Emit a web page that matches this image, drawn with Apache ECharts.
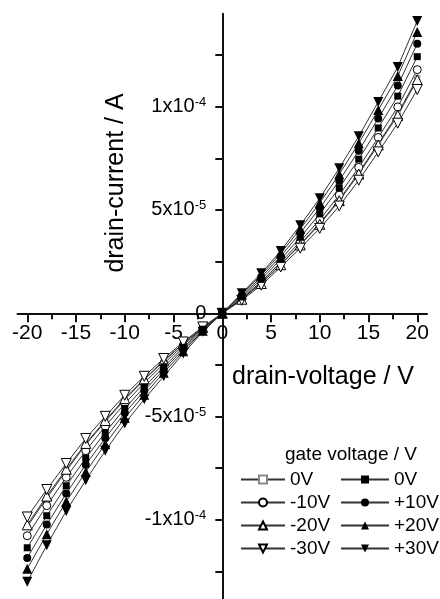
<!DOCTYPE html>
<html>
<head>
<meta charset="utf-8">
<script src="https://cdn.jsdelivr.net/npm/echarts@6/dist/echarts.min.js"></script>
<style>
  html, body { margin: 0; padding: 0; background: #fff; }
  #chart { width: 440px; height: 599px; }
</style>
</head>
<body>
<div id="chart"></div>
<script>
// drain voltage (V)
var voltages = [-20, -18, -16, -14, -12, -10, -8, -6, -4, -2, 0, 2, 4, 6, 8, 10, 12, 14, 16, 18, 20];

// drain current in units of 1e-5 A
var open0 = [-10.33, -8.94, -7.62, -6.36, -5.24, -4.18, -3.22, -2.32, -1.47, -0.70, 0, 0.69, 1.46, 2.37, 3.34, 4.36, 5.50, 6.80, 8.22, 9.66, 11.39];
var openM10 = [-10.77, -9.31, -7.94, -6.65, -5.47, -4.37, -3.37, -2.44, -1.55, -0.73, 0, 0.73, 1.53, 2.47, 3.47, 4.53, 5.72, 7.06, 8.51, 9.99, 11.79];
var openM20 = [-10.24, -8.85, -7.55, -6.30, -5.19, -4.13, -3.18, -2.29, -1.46, -0.69, 0, 0.68, 1.44, 2.35, 3.31, 4.31, 5.45, 6.74, 8.15, 9.58, 11.30];
var openM30 = [-9.86, -8.53, -7.27, -6.06, -4.99, -3.97, -3.05, -2.19, -1.39, -0.66, 0, 0.63, 1.36, 2.24, 3.15, 4.11, 5.19, 6.44, 7.81, 9.20, 10.83];
var fill0 = [-11.35, -9.80, -8.35, -7.01, -5.77, -4.61, -3.57, -2.59, -1.65, -0.77, 0, 0.79, 1.64, 2.61, 3.68, 4.81, 6.07, 7.46, 8.97, 10.51, 12.42];
var fillP10 = [-11.84, -10.23, -8.72, -7.33, -6.04, -4.83, -3.75, -2.73, -1.74, -0.81, 0, 0.86, 1.75, 2.76, 3.89, 5.09, 6.42, 7.87, 9.43, 11.02, 13.05];
var fillP20 = [-12.37, -10.69, -9.11, -7.68, -6.33, -5.07, -3.94, -2.88, -1.84, -0.85, 0, 0.92, 1.85, 2.90, 4.08, 5.34, 6.73, 8.23, 9.84, 11.48, 13.62];
var fillP30 = [-13.00, -11.23, -9.57, -8.08, -6.66, -5.34, -4.16, -3.05, -1.95, -0.90, 0, 0.97, 1.94, 3.02, 4.26, 5.57, 7.02, 8.57, 10.23, 11.92, 14.15];
var UNIT = 1e-5;

var openNames = ['0V', '-10V', '-20V', '-30V'];
var fillNames = ['0V', '+10V', '+20V', '+30V'];

// tick / label positions
var xMajor = [-20, -15, -10, -5, 0, 5, 10, 15, 20];
var xMinor = [-17.5, -12.5, -7.5, -2.5, 2.5, 7.5, 12.5, 17.5];
var yLabels = [-1e-4, -5e-5, 0, 5e-5, 1e-4];
var yTicks = [-1.25e-4, -1e-4, -7.5e-5, -5e-5, -2.5e-5, 0, 2.5e-5, 5e-5, 7.5e-5, 1e-4, 1.25e-4];

var FONT = 'Liberation Sans, Arial, sans-serif';

// grid box; axes are shifted onto the zero lines with offset
var G = { left: 17.5, right: 13, top: 13.7, bottom: 0 };
var ZERO_X = 222.3, ZERO_Y = 313.3;

function pairs(arr) {
  return voltages.map(function (v, i) { return [v, arr[i] * UNIT]; });
}

function mk(key, arr, symbol, size, filled, rotate, borderColor) {
  return {
    name: key,
    type: 'line',
    data: pairs(arr),
    symbol: symbol,
    symbolSize: size,
    symbolRotate: rotate || 0,
    showAllSymbol: true,
    lineStyle: { color: '#333', width: 1 },
    itemStyle: {
      color: filled ? '#000' : '#fff',
      borderColor: borderColor || '#000',
      borderWidth: filled ? 0 : 1,
      opacity: 1
    },
    emphasis: { disabled: true },
    z: filled ? 3 : 2
  };
}

function yFmt(v) {
  if (Math.abs(v) < 1e-12) return '{m|0}';
  var e = Math.floor(Math.log10(Math.abs(v)) + 1e-9);
  var m = Math.round(v / Math.pow(10, e));
  return '{m|' + m + 'x10}{s|' + e + '}';
}

var chart = echarts.init(document.getElementById('chart'));
chart.setOption({
  animation: false,
  backgroundColor: '#fff',
  grid: { left: G.left, right: G.right, top: G.top, bottom: G.bottom, containLabel: false, outerBoundsMode: 'none' },
  xAxis: [{
    type: 'value', min: -21, max: 21, position: 'bottom',
    offset: -(599 - G.bottom - ZERO_Y),
    splitLine: { show: false },
    axisLine: { onZero: false, lineStyle: { color: '#111', width: 2 } },
    axisTick: { customValues: xMajor, length: 9, lineStyle: { color: '#111', width: 2 } },
    axisLabel: { customValues: xMajor, margin: 9, color: '#000', fontSize: 21, fontFamily: FONT }
  }, {
    type: 'value', min: -21, max: 21, position: 'top',
    offset: -(ZERO_Y - G.top),
    splitLine: { show: false },
    axisLine: { show: false, onZero: false },
    axisTick: { customValues: xMinor, inside: true, length: 6, lineStyle: { color: '#111', width: 2 } },
    axisLabel: { show: false }
  }],
  yAxis: {
    type: 'value', min: -1.383e-4, max: 1.45e-4, position: 'left',
    offset: -(ZERO_X - G.left),
    splitLine: { show: false },
    axisLine: { onZero: false, lineStyle: { color: '#111', width: 2 } },
    axisTick: { customValues: yTicks, length: 7, lineStyle: { color: '#111', width: 2 } },
    axisLabel: {
      customValues: yLabels, margin: 16, formatter: yFmt,
      rich: {
        m: { fontSize: 20, fontFamily: FONT, color: '#000', lineHeight: 22 },
        s: { fontSize: 13, fontFamily: FONT, color: '#000', lineHeight: 13, verticalAlign: 'top' }
      }
    }
  },
  legend: [{
    orient: 'vertical', left: 235, top: 465,
    itemWidth: 44, itemHeight: 10, itemGap: 4,
    selectedMode: false,
    data: openNames.map(function (n) { return 'o' + n; }),
    formatter: function (n) { return n.slice(1); },
    textStyle: { fontSize: 19, lineHeight: 19, fontFamily: FONT, color: '#000' }
  }, {
    orient: 'vertical', left: 335, top: 465,
    itemWidth: 48, itemHeight: 10, itemGap: 4,
    selectedMode: false,
    data: fillNames.map(function (n) { return 'f' + n; }),
    formatter: function (n) { return n.slice(1); },
    textStyle: { fontSize: 19, lineHeight: 19, fontFamily: FONT, color: '#000' }
  }],
  graphic: [{
    type: 'text', x: 116, y: 183, rotation: Math.PI / 2,
    style: { text: 'drain-current / A', font: '25px ' + FONT, fill: '#000', align: 'center', verticalAlign: 'middle' }
  }, {
    type: 'text', x: 232, y: 377,
    style: { text: 'drain-voltage / V', font: '25px ' + FONT, fill: '#000', align: 'left', verticalAlign: 'middle' }
  }, {
    type: 'text', x: 351, y: 455,
    style: { text: 'gate voltage / V', font: '19px ' + FONT, fill: '#000', align: 'center', verticalAlign: 'middle' }
  }],
  series: [
    mk('o' + openNames[0], open0, 'rect', 5, false, 0, '#888'),
    mk('o' + openNames[1], openM10, 'circle', 8, false),
    mk('o' + openNames[2], openM20, 'triangle', 10, false),
    mk('o' + openNames[3], openM30, 'triangle', 10, false, 180),
    mk('f' + fillNames[0], fill0, 'rect', 7, true),
    mk('f' + fillNames[1], fillP10, 'circle', 8, true),
    mk('f' + fillNames[2], fillP20, 'triangle', 10, true),
    mk('f' + fillNames[3], fillP30, 'triangle', 10, true, 180)
  ]
});
</script>
</body>
</html>
